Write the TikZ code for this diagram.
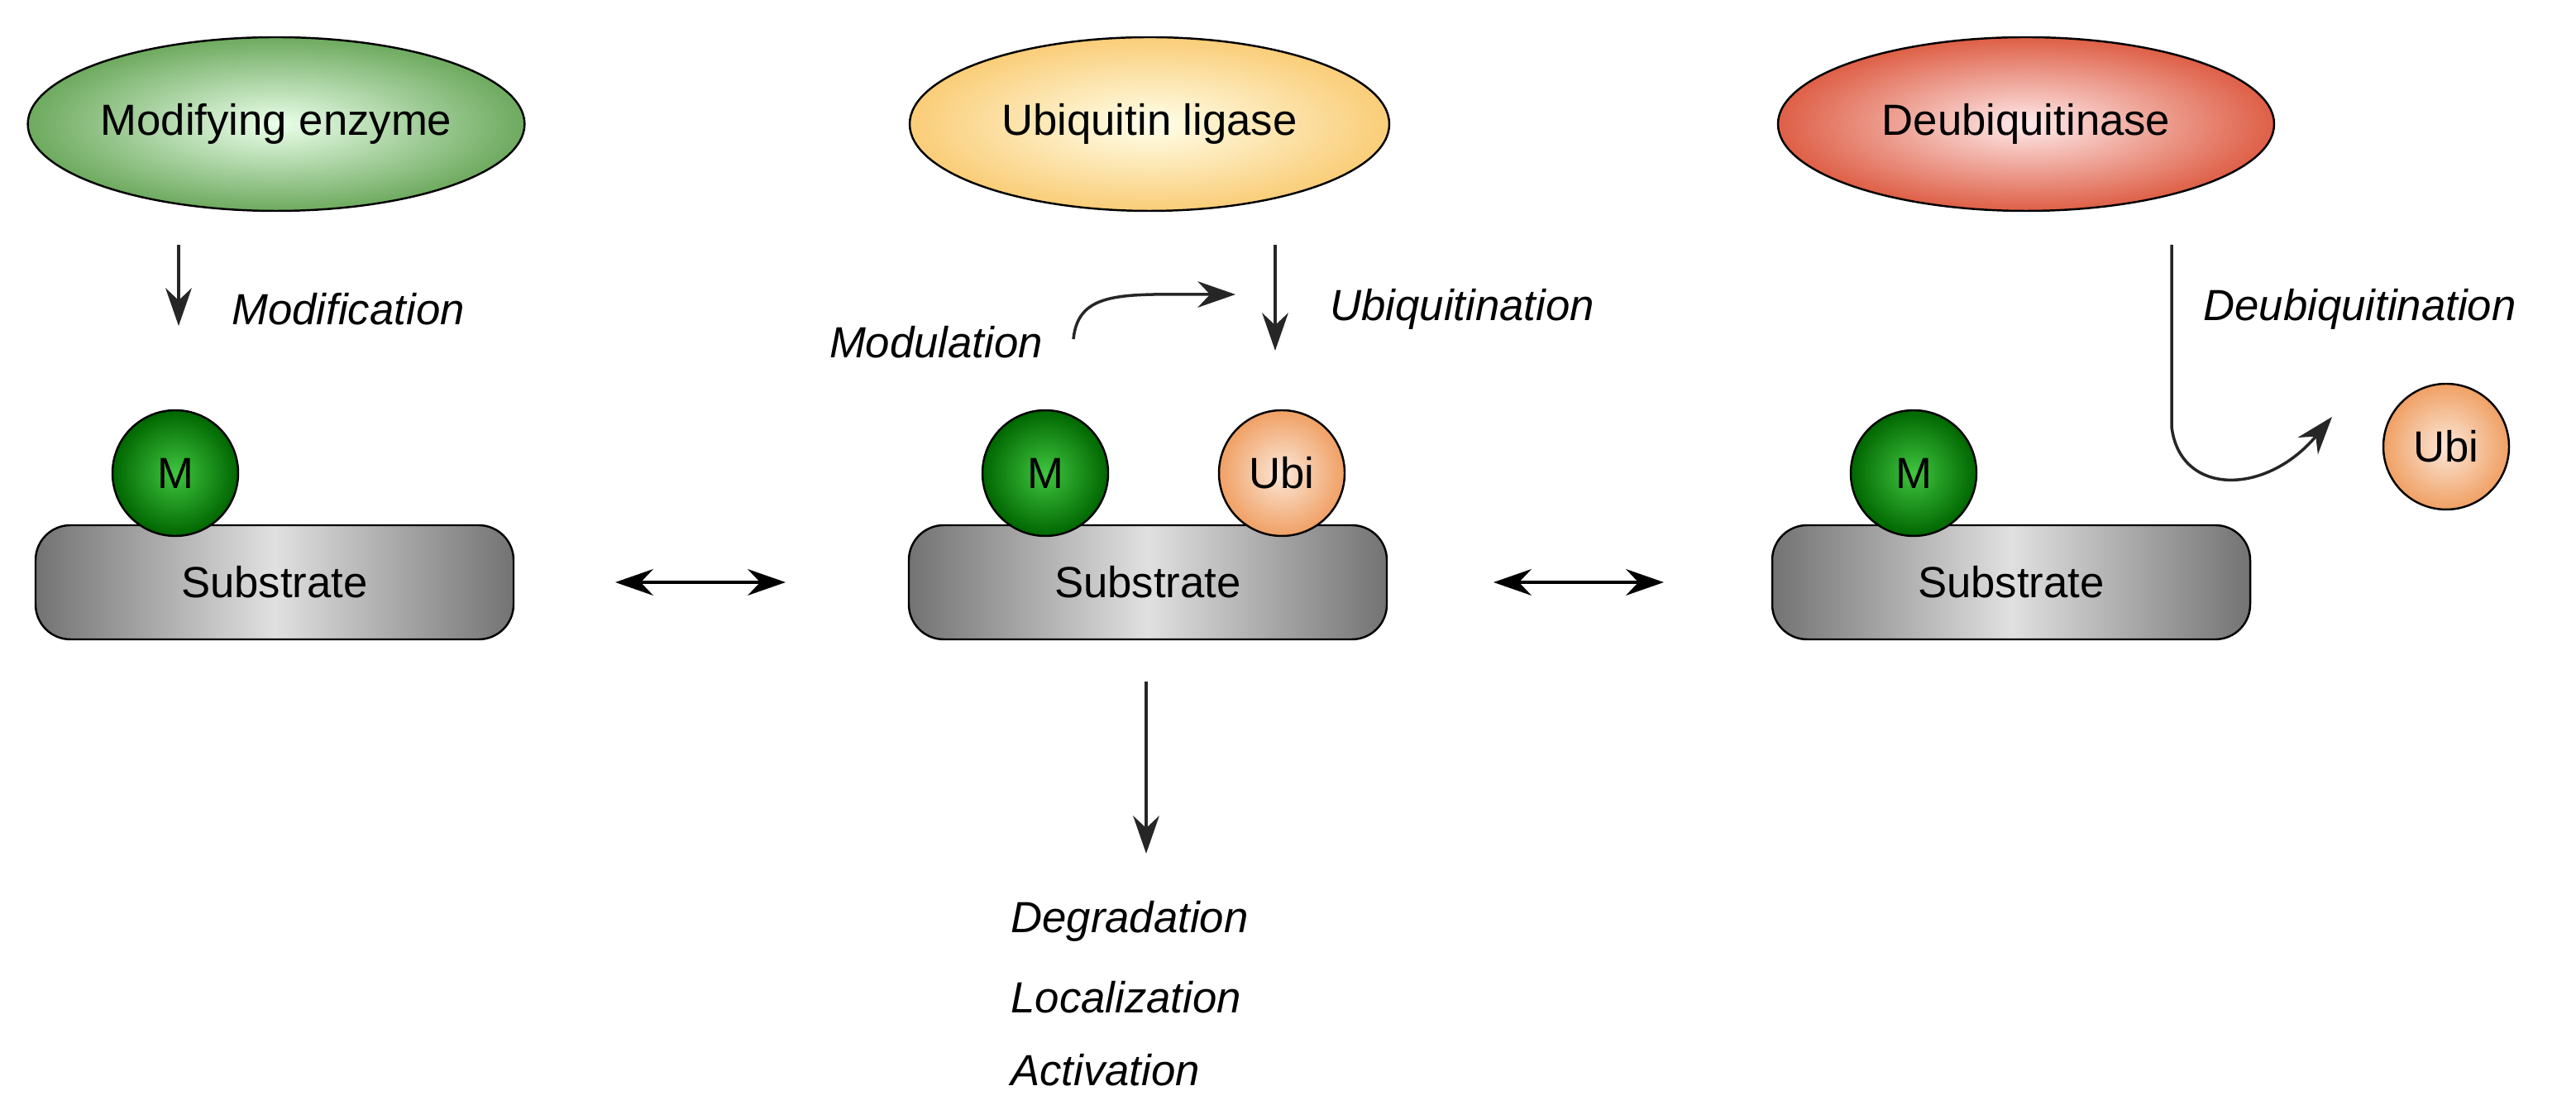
\documentclass[tikz,border=0pt]{standalone}
\usepackage{fontspec}
\setmainfont{Liberation Sans}
\usetikzlibrary{shapes.geometric,arrows.meta}
\definecolor{grn}{RGB}{110,170,95}
\definecolor{yel}{RGB}{250,205,120}
\definecolor{redd}{RGB}{222,95,70}
\definecolor{peach}{RGB}{240,160,100}
\begin{document}
\begin{tikzpicture}[x=0.02cm,y=-0.02cm,
 every node/.style={font=\fontsize{15}{18}\selectfont},
 enz/.style={ellipse,draw=black,line width=0.7pt,inner sep=0pt,minimum width=290*0.02cm,minimum height=105*0.02cm},
 sub/.style={draw=black,line width=0.7pt,rounded corners=12pt,minimum width=289*0.02cm,minimum height=69*0.02cm,
   shading=axis,left color=black!55,right color=black!55,middle color=black!12,shading angle=90,inner sep=0pt},
 mcirc/.style={circle,draw=black,line width=0.7pt,minimum size=76*0.02cm,inner sep=0pt,inner color=green!70!black!75!white,outer color=green!40!black},
 ucirc/.style={circle,draw=black,line width=0.7pt,minimum size=76*0.02cm,inner sep=0pt,inner color=peach!25,outer color=peach},
 tip/.style={Stealth[length=13pt,width=9pt]},
 arr/.style={-{Stealth[length=13pt,width=9pt]},line width=1pt,black!85},
 darr/.style={{Stealth[length=13pt,width=9pt]}-{Stealth[length=13pt,width=9pt]},line width=1.3pt},
 lab/.style={font=\fontsize{15}{18}\selectfont\itshape}]
\useasboundingbox (0,0) rectangle (1557.5,671);
\node[enz,inner color=green!8,outer color=grn] (e1) at (167,75) {Modifying enzyme};
\node[enz,inner color=yellow!8,outer color=yel] (e2) at (695,75) {Ubiquitin ligase};
\node[enz,minimum width=300*0.02cm,inner color=red!8,outer color=redd] (e3) at (1225,75) {Deubiquitinase};
\node[sub] (s1) at (166,352) {\raisebox{-4pt}{Substrate}};
\node[sub] (s2) at (694,352) {\raisebox{-4pt}{Substrate}};
\node[sub] (s3) at (1216,352) {\raisebox{-4pt}{Substrate}};
\node[mcirc] (m1) at (106,286) {M};
\node[mcirc] (m2) at (632,286) {M};
\node[mcirc] (m3) at (1157,286) {M};
\node[ucirc] (u2) at (775,286) {Ubi};
\node[ucirc] (u3) at (1479,270) {Ubi};
\coordinate (a1s) at (108,148); \coordinate (a1e) at (108,197);
\draw[arr] (a1s) -- (a1e);
\node[lab,anchor=west] (l1) at (134,187) {Modification};
\coordinate (a2s) at (771,148); \coordinate (a2e) at (771,212);
\draw[arr] (a2s) -- (a2e);
\node[lab,anchor=west] (l2) at (798,187) {Ubiquitination};
\coordinate (ms) at (649,205); \coordinate (me) at (747,178);
\draw[arr] (ms) .. controls (652,175) and (680,178) .. (me);
\node[lab] (l3) at (566,207) {Modulation};
\coordinate (ds) at (1313,148); \coordinate (de) at (1410,252);
\draw[arr] (ds) -- (1313,258) .. controls (1318,300) and (1370,300) .. (de);
\node[lab,anchor=west] (l4) at (1326,187) {Deubiquitination};
\draw[darr] (372,352) -- (475,352);
\draw[darr] (903,352) -- (1006,352);
\coordinate (os) at (693,412); \coordinate (oe) at (693,516);
\draw[arr] (os) -- (oe);
\node[lab,anchor=west] (o1) at (605,557) {Degradation};
\node[lab,anchor=west] (o2) at (605,603) {Localization};
\node[lab,anchor=west] (o3) at (605,647) {Activation};
\end{tikzpicture}
\end{document}
